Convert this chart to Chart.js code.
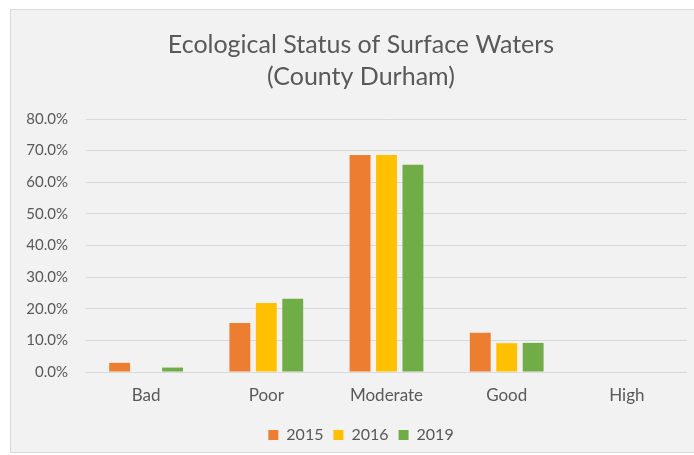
<!DOCTYPE html>
<html>
<head>
<meta charset="utf-8">
<script src="https://cdn.jsdelivr.net/npm/chart.js"></script>
<style>
  html, body { margin: 0; padding: 0; background: #ffffff; overflow: hidden; }
  #wrap { width: 694px; height: 455px; overflow: hidden; }
</style>
</head>
<body>
<div id="wrap"><canvas id="statusChart" width="720" height="455"></canvas></div>
<script>
// values (percent)
const categories = ["Bad", "Poor", "Moderate", "Good", "High"];
const years = ["2015", "2016", "2019"];
const values2015 = [2.9, 15.5, 68.6, 12.4, 0];
const values2016 = [0, 21.8, 68.6, 9.1, 0];
const values2019 = [1.4, 23.2, 65.5, 9.2, 0];
const yTicks = [0, 10, 20, 30, 40, 50, 60, 70, 80];

const colours = ['#ED7D31', '#FFC000', '#70AD47'];
const textGrey = '#595959';

// grey panel behind the chart, like the office chart frame
const panel = {
  id: 'panel',
  beforeDraw(chart) {
    const ctx = chart.ctx;
    ctx.save();
    ctx.fillStyle = '#ffffff';
    ctx.fillRect(0, 0, chart.width, chart.height);
    ctx.fillStyle = '#f2f2f2';
    ctx.fillRect(11, 10, chart.width - 11, 442);
    ctx.strokeStyle = '#d9d9d9';
    ctx.lineWidth = 1;
    ctx.strokeRect(10.5, 9.5, chart.width, 443);
    ctx.restore();
  }
};

const seriesData = [values2015, values2016, values2019];

const config = {
  type: 'bar',
  data: {
    labels: categories,
    datasets: years.map((y, i) => ({
      label: y,
      data: seriesData[i],
      backgroundColor: colours[i],
      borderWidth: 0,
      categoryPercentage: 0.66,
      barPercentage: 0.79
    }))
  },
  options: {
    responsive: false,
    animation: false,
    layout: { padding: { left: 11, right: 9, top: 10, bottom: 2 } },
    plugins: {
      title: {
        display: true,
        text: ['Ecological Status of Surface Waters', '(County Durham)'],
        color: textGrey,
        font: { family: 'Lato', size: 25, weight: 'normal', lineHeight: 1.28 },
        padding: { top: 19, bottom: 26 }
      },
      legend: {
        position: 'bottom',
        labels: {
          color: textGrey,
          font: { family: 'Lato', size: 16 },
          boxWidth: 10,
          boxHeight: 10,
          padding: 10
        }
      },
      tooltip: { enabled: false }
    },
    scales: {
      x: {
        grid: { display: false, drawTicks: false },
        border: { display: false },
        ticks: {
          color: textGrey,
          font: { family: 'Lato', size: 17 },
          padding: 13
        },
        afterFit: (s) => { s.height = 45; }
      },
      y: {
        min: 0,
        max: 80,
        afterBuildTicks: (s) => { s.ticks = yTicks.map(v => ({ value: v })); },
        grid: { color: '#d9d9d9', lineWidth: 1, drawTicks: false },
        border: { display: false },
        ticks: {
          color: textGrey,
          font: { family: 'Lato', size: 15 },
          padding: 18,
          callback: (v) => v.toFixed(1) + '%'
        },
        afterFit: (s) => { s.width = 75; }
      },
      // empty right-hand strip so the plot stops where the frame keeps going
      spacer: {
        type: 'linear',
        position: 'right',
        grid: { display: false, drawTicks: false },
        border: { display: false },
        ticks: { display: false },
        afterFit: (s) => { s.width = 24; }
      }
    }
  },
  plugins: [panel]
};

new Chart(document.getElementById('statusChart').getContext('2d'), config);
</script>
</body>
</html>
